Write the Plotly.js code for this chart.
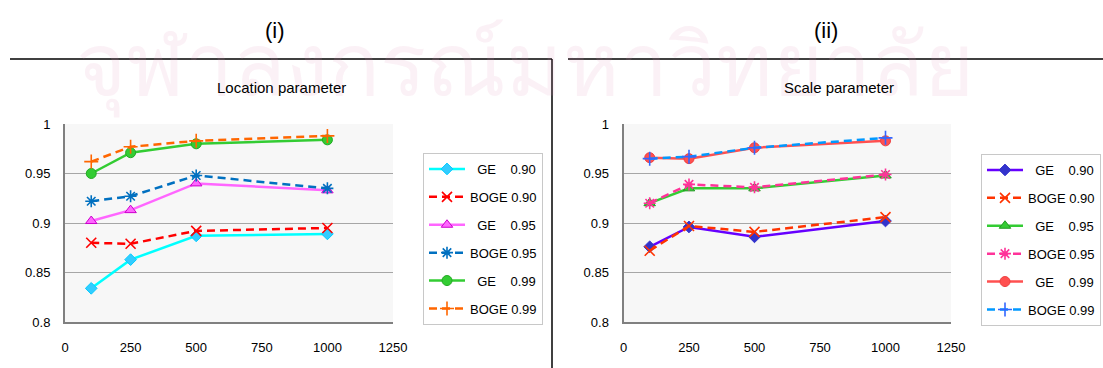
<!DOCTYPE html>
<html>
<head>
<meta charset="utf-8">
<script src="https://cdn.plot.ly/plotly-3.0.1.min.js"></script>
<style>
html,body{margin:0;padding:0;background:#fff;}
#chart{width:1103px;height:368px;}
</style>
</head>
<body>
<div id="chart"></div>
<script>
// ---- data ----
const sampleSizes = [100, 250, 500, 1000];

const locGE90   = [0.834, 0.863, 0.887, 0.889];
const locBOGE90 = [0.880, 0.879, 0.892, 0.895];
const locGE95   = [0.902, 0.913, 0.940, 0.933];
const locBOGE95 = [0.922, 0.927, 0.948, 0.935];
const locGE99   = [0.950, 0.971, 0.980, 0.984];
const locBOGE99 = [0.962, 0.977, 0.983, 0.988];

const scaGE90   = [0.876, 0.896, 0.886, 0.902];
const scaBOGE90 = [0.872, 0.897, 0.891, 0.906];
const scaGE95   = [0.920, 0.935, 0.935, 0.948];
const scaBOGE95 = [0.920, 0.939, 0.936, 0.949];
const scaGE99   = [0.966, 0.965, 0.976, 0.983];
const scaBOGE99 = [0.965, 0.967, 0.976, 0.986];

const legendNames = [
  '\u00a0\u00a0GE\u00a0\u00a0\u00a0\u00a00.90',
  'BOGE\u00a00.90',
  '\u00a0\u00a0GE\u00a0\u00a0\u00a0\u00a00.95',
  'BOGE\u00a00.95',
  '\u00a0\u00a0GE\u00a0\u00a0\u00a0\u00a00.99',
  'BOGE\u00a00.99'
];
const xTicks = [0, 250, 500, 750, 1000, 1250];
const yTicks = [0.8, 0.85, 0.9, 0.95, 1];
const yTickText = ['0.8', '0.85', '0.9', '0.95', '1'];

// ---- styles ----
const W = 1103, H = 368;
const DASH = '8px,5px';

function tr(y, name, xa, ya, leg, color, dash, symbol, mColor, mLine, mSize){
  return {
    x: sampleSizes, y: y, name: name, xaxis: xa, yaxis: ya, legend: leg,
    legendgroup: leg + name,
    mode: 'lines+markers', type: 'scatter',
    line: {color: color, width: 2.5, dash: dash},
    marker: {symbol: symbol, size: mSize, color: mColor,
             line: {color: mLine, width: symbol.indexOf('open') >= 0 ? 1.6 : 1}},
    hoverinfo: 'x+y'
  };
}

const leftTraces = [
  tr(locGE90,   legendNames[0], 'x',  'y',  'legend',  '#00FFFF', 'solid', 'diamond',          '#33CCFF', '#00CCFF', 9),
  tr(locBOGE90, legendNames[1], 'x',  'y',  'legend',  '#FF0000', DASH,    'x-thin-open',      '#FF0000', '#FF0000', 10),
  tr(locGE95,   legendNames[2], 'x',  'y',  'legend',  '#FF66FF', 'solid', 'triangle-up',      '#FF66FF', '#CC00CC', 10),
  tr(locBOGE95, legendNames[3], 'x',  'y',  'legend',  '#0070C0', DASH,    'asterisk-open',    '#0070C0', '#0070C0', 10),
  tr(locGE99,   legendNames[4], 'x',  'y',  'legend',  '#33CC33', 'solid', 'circle',           '#33CC33', '#22AA22', 10),
  tr(locBOGE99, legendNames[5], 'x',  'y',  'legend',  '#FF6600', DASH,    'cross-thin-open',  '#FF6600', '#FF6600', 10)
];
const rightTraces = [
  tr(scaGE90,   legendNames[0], 'x2', 'y2', 'legend2', '#6600FF', 'solid', 'diamond',          '#3333CC', '#3333CC', 9),
  tr(scaBOGE90, legendNames[1], 'x2', 'y2', 'legend2', '#FF3300', DASH,    'x-thin-open',      '#FF3300', '#FF3300', 10),
  tr(scaGE95,   legendNames[2], 'x2', 'y2', 'legend2', '#33CC33', 'solid', 'triangle-up',      '#33CC33', '#229922', 10),
  tr(scaBOGE95, legendNames[3], 'x2', 'y2', 'legend2', '#FF3399', DASH,    'asterisk-open',    '#FF3399', '#FF3399', 10),
  tr(scaGE99,   legendNames[4], 'x2', 'y2', 'legend2', '#FF5050', 'solid', 'circle',           '#FF5050', '#EE4040', 10),
  tr(scaBOGE99, legendNames[5], 'x2', 'y2', 'legend2', '#0099FF', DASH,    'cross-thin-open',  '#3366FF', '#3366FF', 10)
];

const FONT = 'Liberation Sans, Arial, sans-serif';

function xax(domain, anchor){
  return {
    domain: domain, anchor: anchor, range: [0, 1250],
    tickmode: 'array', tickvals: xTicks, ticktext: xTicks.map(String),
    showgrid: false, zeroline: false,
    showline: true, linecolor: '#808080', linewidth: 2,
    ticks: '', ticklabelstandoff: 12,
    tickfont: {family: FONT, size: 13, color: '#000'}, fixedrange: true
  };
}
function yax(anchor){
  return {
    domain: [1 - 322/H, 1 - 124/H], anchor: anchor, range: [0.8, 1],
    tickmode: 'array', tickvals: yTicks, ticktext: yTickText,
    showgrid: true, gridcolor: '#A6A6A6', gridwidth: 1, zeroline: false,
    showline: true, linecolor: '#808080', linewidth: 2,
    ticks: '', ticklabelstandoff: 10,
    tickfont: {family: FONT, size: 13, color: '#000'}, fixedrange: true
  };
}
function legendCfg(xpx, ypx){
  return {
    x: xpx / W, y: 1 - ypx / H, xanchor: 'left', yanchor: 'top',
    xref: 'paper', yref: 'paper',
    bgcolor: '#FFFFFF', bordercolor: '#C8C8C8', borderwidth: 1,
    font: {family: FONT, size: 13, color: '#000'},
    traceorder: 'grouped', tracegroupgap: 8, itemwidth: 36
  };
}

const layout = {
  width: W, height: H,
  margin: {l: 0, r: 0, t: 0, b: 0},
  paper_bgcolor: '#FFFFFF', plot_bgcolor: '#F7F7F7',
  showlegend: true,
  xaxis:  xax([65/W, 393/W], 'y'),
  yaxis:  yax('x'),
  xaxis2: xax([623.5/W, 951/W], 'y2'),
  yaxis2: yax('x2'),
  legend:  legendCfg(423, 153),
  legend2: legendCfg(981, 154),
  shapes: [
    {type: 'line', xref: 'paper', yref: 'paper', x0: 10/W, x1: 552/W, y0: 1 - 59/H, y1: 1 - 59/H, line: {color: '#000', width: 1.5}},
    {type: 'line', xref: 'paper', yref: 'paper', x0: 552/W, x1: 552/W, y0: 1 - 59/H, y1: 0, line: {color: '#000', width: 1.5}},
    {type: 'line', xref: 'paper', yref: 'paper', x0: 568/W, x1: 1, y0: 1 - 59/H, y1: 1 - 59/H, line: {color: '#000', width: 1.5}}
  ],
  annotations: [
    {text: 'จุฬาลงกรณ์มหาวิทยาลัย', xref: 'paper', yref: 'paper', x: 525/W, y: 1 - 62/H,
     xanchor: 'center', yanchor: 'middle', showarrow: false,
     font: {family: 'Noto Sans, sans-serif', size: 86, color: 'rgba(225,150,185,0.13)'}},
    {text: '(i)', xref: 'paper', yref: 'paper', x: 275/W, y: 1 - 30/H, xanchor: 'center', yanchor: 'middle',
     showarrow: false, font: {family: FONT, size: 22, color: '#000'}},
    {text: '(ii)', xref: 'paper', yref: 'paper', x: 826/W, y: 1 - 30/H, xanchor: 'center', yanchor: 'middle',
     showarrow: false, font: {family: FONT, size: 22, color: '#000'}},
    {text: 'Location parameter', xref: 'paper', yref: 'paper', x: 281/W, y: 1 - 88/H, xanchor: 'center', yanchor: 'middle',
     showarrow: false, font: {family: FONT, size: 15, color: '#000'}},
    {text: 'Scale parameter', xref: 'paper', yref: 'paper', x: 839/W, y: 1 - 88/H, xanchor: 'center', yanchor: 'middle',
     showarrow: false, font: {family: FONT, size: 15, color: '#000'}}
  ]
};

Plotly.newPlot('chart', leftTraces.concat(rightTraces), layout, {staticPlot: true, displayModeBar: false});
</script>
</body>
</html>
